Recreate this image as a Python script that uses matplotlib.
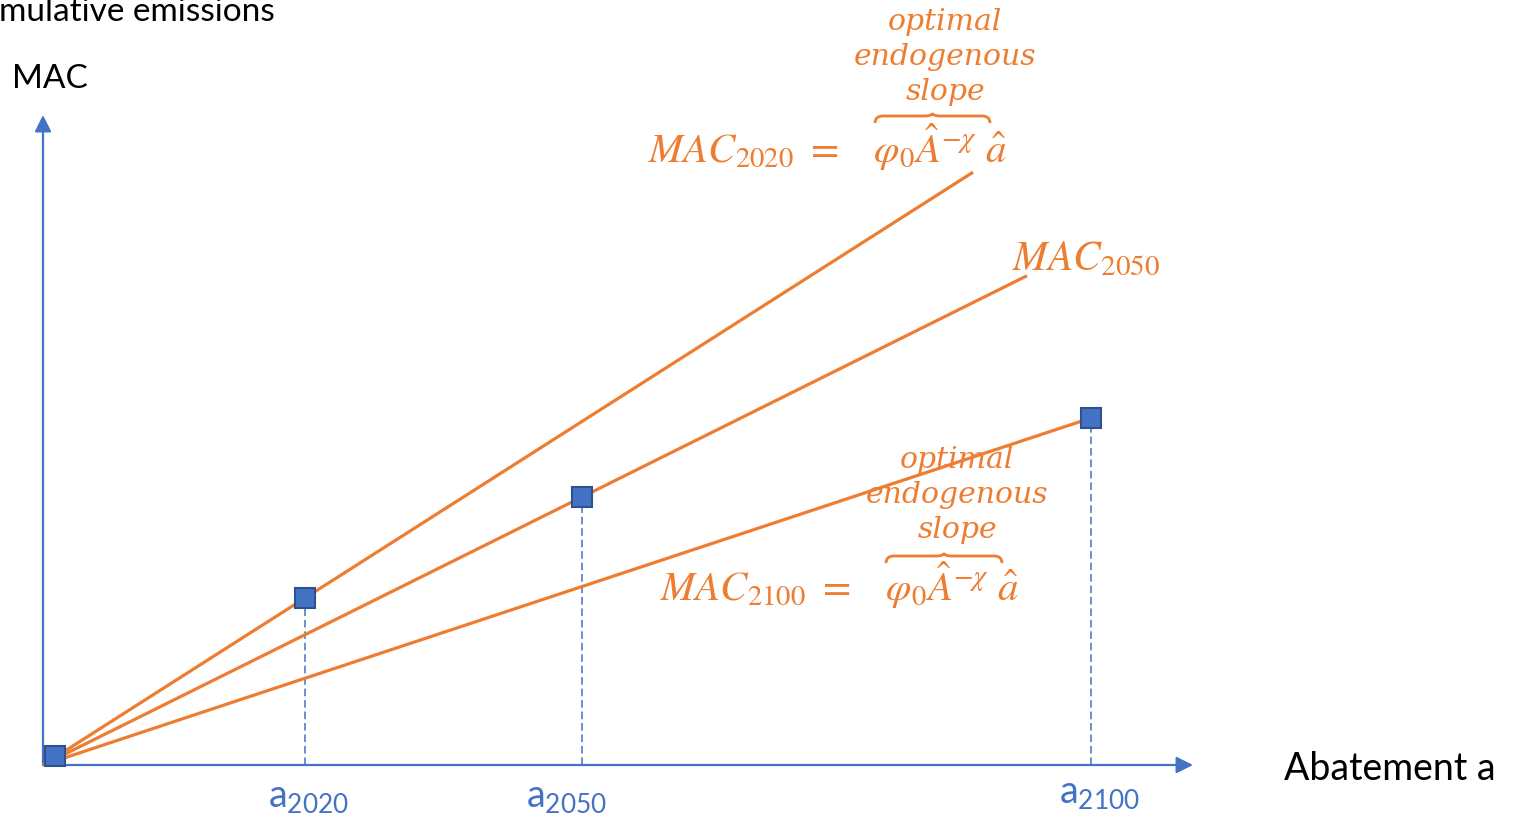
import matplotlib.pyplot as plt
from matplotlib.path import Path
from matplotlib.patches import PathPatch

plt.rcParams['font.family'] = ['Lato', 'DejaVu Sans']
plt.rcParams['mathtext.fontset'] = 'custom'
plt.rcParams['mathtext.rm'] = 'Lato'
plt.rcParams['mathtext.it'] = 'Lato:italic'

# abatement levels and marginal abatement cost in each year
years = ['2020', '2050', '2100']
abatement = [262, 539, 1048]
mac = [167, 268, 347]
line_end = [930, 984, 1047]
origin_a, origin_mac = 12, 9

BLUE = '#4472C4'
DARK_BLUE = '#2F528F'
ORANGE = '#ED7D31'

fig = plt.figure(figsize=(15.14, 8.18), dpi=100)
ax = fig.add_axes([0, 0, 1, 1])
ax.set_xlim(-43, 1471)
ax.set_ylim(-53, 765)
ax.axis('off')

arrow = dict(arrowstyle='-|>,head_length=0.5,head_width=0.25', color=BLUE,
             lw=1.6, mutation_scale=20, shrinkA=0, shrinkB=0)
ax.annotate('', xy=(1150, 0), xytext=(0, 0), arrowprops=arrow)
ax.annotate('', xy=(0, 650), xytext=(0, 0), arrowprops=arrow)

# MAC curves, one per year, slope = mac / abatement
for a, m, x1 in zip(abatement, mac, line_end):
    ax.plot([0, x1], [0, x1 * m / a], color=ORANGE, lw=2.3,
            solid_capstyle='butt', zorder=3)

for a, m in zip(abatement, mac):
    ax.plot([a, a], [0, m], color=BLUE, lw=1.1, ls=(0, (5, 2.5)), zorder=2)

ax.plot(abatement + [origin_a], mac + [origin_mac], 's', ms=14,
        mfc=BLUE, mec=DARK_BLUE, mew=1.5, zorder=5)

# labels under the x axis
label_dx = [4, -15, 9]
label_y = [-42, -42, -38]
for a, yr, dx, ly in zip(abatement, years, label_dx, label_y):
    ax.text(a + dx, ly, r'$\mathrm{a}_{%s}$' % yr, color=BLUE, fontsize=27,
            ha='center', va='baseline', math_fontfamily='custom')

ax.text(1241, -15, 'Abatement a', fontsize=27, color='black', va='baseline')
ax.text(-31, 677, 'MAC', fontsize=24, color='black', va='baseline')
ax.text(-44, 744, 'mulative emissions', fontsize=24, color='black', va='baseline')


def brace(x0, x1, y, h):
    xm = (x0 + x1) / 2
    yb = y + 0.7 * h
    q = 8
    verts = [(x0, y), (x0, yb), (x0 + q, yb),
             (xm - q, yb),
             (xm, yb), (xm, y + h),
             (xm, yb), (xm + q, yb),
             (x1 - q, yb),
             (x1, yb), (x1, y)]
    codes = [Path.MOVETO, Path.CURVE3, Path.CURVE3,
             Path.LINETO,
             Path.CURVE3, Path.CURVE3,
             Path.CURVE3, Path.CURVE3,
             Path.LINETO,
             Path.CURVE3, Path.CURVE3]
    ax.add_patch(PathPatch(Path(verts, codes), fill=False, ec=ORANGE, lw=2))


formula = r'$MAC_{%s}\ =\ \ \ \varphi_0\hat{A}^{-\chi}\ \hat{a}$'
ax.text(605, 602, formula % '2020', color=ORANGE, fontsize=29.5,
        va='baseline', math_fontfamily='stix')
brace(832, 947, 642, 10)
ax.text(902, 708, 'optimal\nendogenous\nslope', color=ORANGE, fontsize=21.5,
        family='DejaVu Serif', style='italic', ha='center', va='center',
        linespacing=1.3)

ax.text(969, 495, r'$MAC_{2050}$', color=ORANGE, fontsize=30,
        va='baseline', math_fontfamily='stix')

ax.text(617, 164, formula % '2100', color=ORANGE, fontsize=29.5,
        va='baseline', math_fontfamily='stix')
brace(843, 959, 202, 10)
ax.text(914, 270, 'optimal\nendogenous\nslope', color=ORANGE, fontsize=21.5,
        family='DejaVu Serif', style='italic', ha='center', va='center',
        linespacing=1.3)

fig.savefig('out.png', dpi=100)
